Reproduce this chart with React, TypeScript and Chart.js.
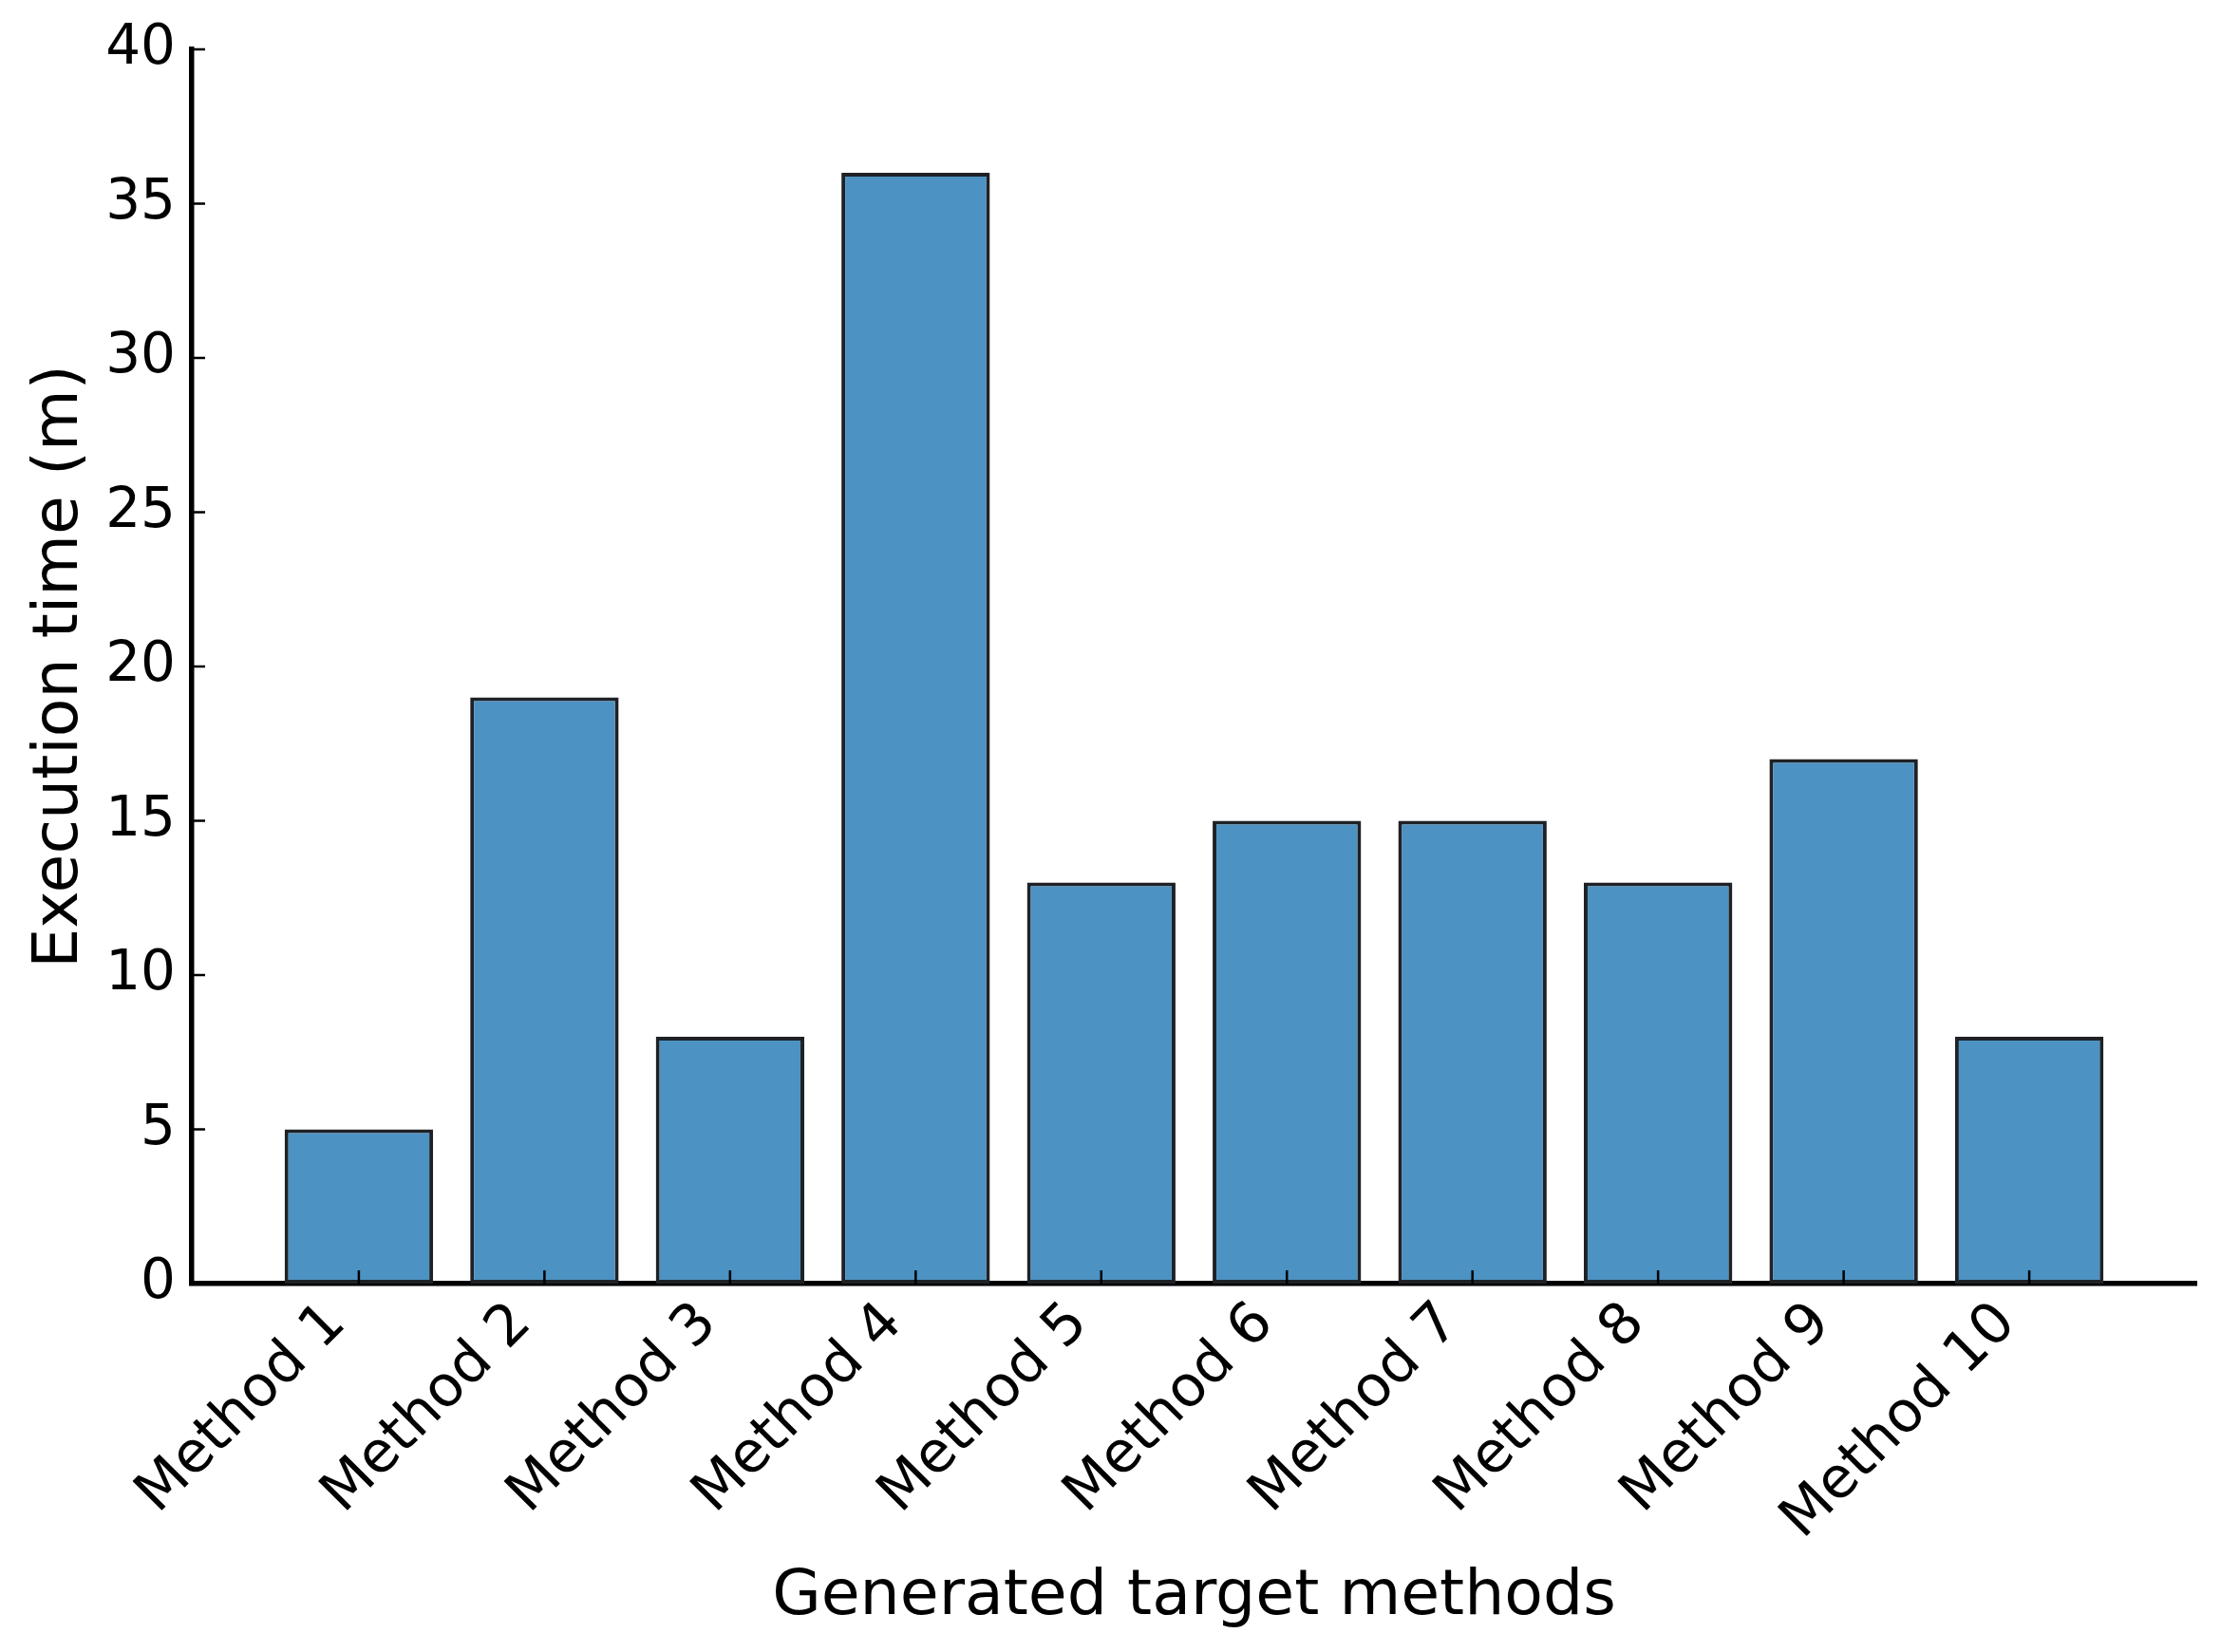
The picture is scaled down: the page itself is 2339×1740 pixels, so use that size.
import React, { useEffect, useRef } from "react";
import { Chart, registerables } from "chart.js";

Chart.register(...registerables);

const categories = [
  "Method 1", "Method 2", "Method 3", "Method 4", "Method 5",
  "Method 6", "Method 7", "Method 8", "Method 9", "Method 10",
];
const executionTimes = [5, 19, 8, 36, 13, 15, 15, 13, 17, 8];
const yTicks = [0, 5, 10, 15, 20, 25, 30, 35, 40];
const xTitle = "Generated target methods";
const yTitle = "Execution time (m)";

const W = 2339;
const H = 1740;
const FONT = "'DejaVu Sans', sans-serif";

const inwardTicks = {
  id: "inwardTicks",
  afterDatasetsDraw(chart: any) {
    const { ctx, chartArea, scales } = chart;
    ctx.save();
    ctx.strokeStyle = "#000";
    ctx.lineWidth = 2.5;
    const yS = scales.y;
    yTicks.forEach((v) => {
      const py = yS.getPixelForValue(v);
      ctx.beginPath();
      ctx.moveTo(chartArea.left, py);
      ctx.lineTo(chartArea.left + 14, py);
      ctx.stroke();
    });
    const xS = scales.x;
    categories.forEach((_, i) => {
      const px = xS.getPixelForValue(i);
      ctx.beginPath();
      ctx.moveTo(px, chartArea.bottom);
      ctx.lineTo(px, chartArea.bottom - 14);
      ctx.stroke();
    });
    ctx.restore();
  },
};

export default function App() {
  const ref = useRef<HTMLCanvasElement | null>(null);
  useEffect(() => {
    if (!ref.current) return;
    const chart = new Chart(ref.current, {
      type: "bar",
      data: {
        datasets: [
          {
            label: yTitle,
            data: executionTimes.map((v, i) => ({ x: i, y: v })),
            backgroundColor: "#4c92c3",
            borderColor: "#1e2226",
            borderWidth: 4,
            borderSkipped: false,
            categoryPercentage: 1,
            barPercentage: 0.8,
          },
        ],
      },
      options: {
        animation: false,
        responsive: false,
        devicePixelRatio: 1,
        layout: { padding: { top: 52, right: 26, left: 0, bottom: 0 } },
        plugins: {
          legend: { display: false },
          tooltip: { enabled: false },
        },
        scales: {
          x: {
            type: "linear",
            min: -0.9,
            max: 9.9,
            offset: false,
            afterBuildTicks: (axis: any) => {
              axis.ticks = categories.map((_, i) => ({ value: i }));
            },
            afterFit: (scale: any) => {
              scale.height = 388;
            },
            grid: { display: false, drawTicks: false, offset: false },
            border: { display: true, color: "#000", width: 5.5 },
            ticks: {
              autoSkip: false,
              minRotation: 45,
              maxRotation: 45,
              padding: 7,
              labelOffset: -23,
              color: "#000",
              font: { family: FONT, size: 60 },
              callback: (value: any) => categories[value as number] ?? "",
            },
            title: {
              display: true,
              text: xTitle,
              color: "#000",
              font: { family: FONT, size: 66.5 },
              padding: { top: 17, bottom: 17 },
            },
          },
          y: {
            min: 0,
            max: 40,
            afterBuildTicks: (axis: any) => {
              axis.ticks = yTicks.map((v) => ({ value: v }));
            },
            afterFit: (scale: any) => {
              scale.width = 202;
            },
            grid: { display: false, drawTicks: false },
            border: { display: true, color: "#000", width: 5.5 },
            ticks: {
              padding: 17,
              color: "#000",
              font: { family: FONT, size: 58 },
            },
            title: {
              display: true,
              text: yTitle,
              color: "#000",
              font: { family: FONT, size: 66.5 },
              padding: { top: 24, bottom: 24 },
            },
          },
        },
      },
      plugins: [inwardTicks],
    });
    return () => chart.destroy();
  }, []);
  return (
    <div style={{ position: "fixed", left: 0, top: 0, width: W, height: H, background: "#fff" }}>
      <canvas ref={ref} width={W} height={H} style={{ width: W, height: H, display: "block" }} />
    </div>
  );
}
